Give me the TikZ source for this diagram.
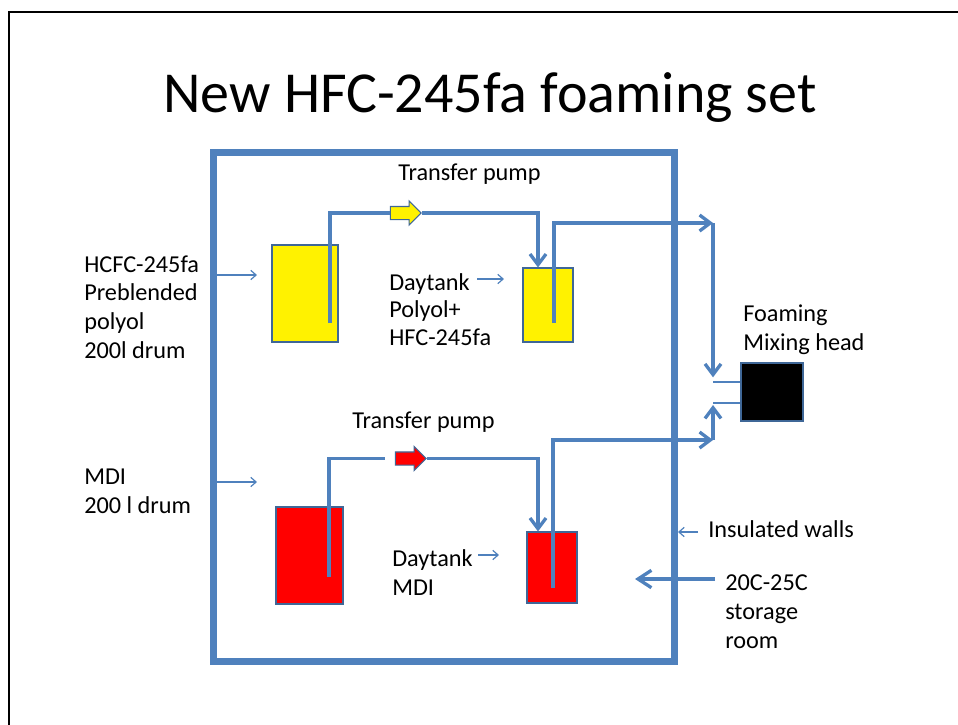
\documentclass[tikz,border=0pt]{standalone}
\usepackage{fontspec}
\setmainfont{Carlito}
\usetikzlibrary{arrows.meta,shapes.arrows,calc}
\definecolor{pipeblue}{HTML}{4F81BD}
\definecolor{tankedge}{HTML}{3F6797}
\begin{document}
\begin{tikzpicture}[x=0.75pt,y=-0.75pt,
  pipe/.style={draw=pipeblue, line width=2.5pt},
  pipearrow/.style={pipe, -{Straight Barb[length=8pt,width=12pt]}},
  feed/.style={draw=pipeblue, line width=1.5pt},
  thinarrow/.style={draw=pipeblue, line width=0.9pt, -{Straight Barb[length=4pt,width=7pt]}},
  bigarrow/.style={draw=pipeblue, line width=2.5pt, -{Straight Barb[length=10pt,width=13pt]}},
  tank/.style={draw=tankedge, line width=0.8pt, inner sep=0pt},
  pump/.style={single arrow, draw=tankedge, line width=0.8pt, inner sep=0pt, inner ysep=4.5pt,
    single arrow head extend=4.1pt, minimum height=23pt, shape border rotate=0},
  lbl/.style={font=\fontsize{18.2}{21.4}\selectfont, inner sep=0pt, anchor=base west, align=left}
]
\useasboundingbox (0,0) rectangle (958,725);
% slide border
\draw[line width=1.5pt] (9,725) -- (9,11.5) -- (958,11.5);
% title
\node (title) [font=\fontsize{43.5}{50}\selectfont, inner sep=0pt, anchor=base] at (490,112) {New HFC-245fa foaming set};
% insulated room
\node (room) [draw=pipeblue, line width=5.25pt, minimum width=346.1pt, minimum height=381.75pt, inner sep=0pt] at (444.25,406.5) {};
% tanks
\node (drumA) [tank, fill=yellow, minimum width=49.5pt, minimum height=72.75pt] at (305,293.5) {};
\node (dayA) [tank, fill=yellow, minimum width=37.5pt, minimum height=55.5pt] at (548,305) {};
\node (drumB) [tank, fill=red, minimum width=50.25pt, minimum height=72.75pt] at (309.5,555.5) {};
\node (dayB) [tank, fill=red, minimum width=37.5pt, minimum height=53.25pt] at (552,567.5) {};
\node (head) [fill=black, draw=tankedge, line width=0.8pt, inner sep=0pt, minimum width=46.5pt, minimum height=43.5pt] at (772,392) {};
% pumps
\node (pumpA) [pump, fill=yellow] at (402.5,213) {};
\node (pumpB) [pump, fill=red] at (407.5,458.5) {};
% dip tubes and joints
\coordinate (tubeA) at (330,323);
\coordinate (tubeB) at (329,577);
\coordinate (tubeDA) at (554,323);
\coordinate (tubeDB) at (553,588);
\coordinate (gapB) at (385,458.5);
\coordinate (joinA) at (713,223);
\coordinate (inA) at (713,382);
\coordinate (joinB) at (713,440);
\coordinate (inB) at (713,403);
% polyol line
\draw[pipe] (tubeA) |- (pumpA.west);
\draw[pipearrow] (pumpA.east) -| ([xshift=-7.5pt]dayA.north);
\draw[pipearrow] (tubeDA) |- (joinA);
\draw[pipearrow] (joinA) -- ([yshift=3.5pt]inA);
\draw[feed] (inA) -- (inA -| head.west);
% MDI line
\draw[pipe] (tubeB) |- (gapB);
\draw[pipearrow] (pumpB.east) -| ([xshift=-10.5pt]dayB.north);
\draw[pipearrow] (tubeDB) |- (joinB);
\draw[pipearrow] (joinB) -- ([yshift=-1.5pt]inB);
\draw[feed] (inB) -- (inB -| head.west);
% label arrows
\coordinate (aA) at (257,275);
\coordinate (aB) at (257,482);
\coordinate (aDA) at (504,279);
\coordinate (aDB) at (499,555);
\coordinate (aW) at (678,532);
\coordinate (aS) at (635,579);
\draw[thinarrow] (aA -| room.west) -- (aA);
\draw[thinarrow] (aB -| room.west) -- (aB);
\draw[thinarrow] (477,279) -- (aDA);
\draw[thinarrow] (478,555) -- (aDB);
\draw[thinarrow] (698,532) -- (aW);
\draw[bigarrow] (715,579) -- (aS);
% labels (multi-line nodes: base anchor = last line baseline)
\node (lA) [lbl] at (84,358) {HCFC-245fa\\Preblended\\polyol\\200l drum};
\node (lB) [lbl] at (84,513) {MDI\\200 l drum};
\node (tA) [lbl] at (398,180) {Transfer pump};
\node (tB) [lbl] at (352,428) {Transfer pump};
\node (dA) [lbl, font=\fontsize{18.2}{20.6}\selectfont] at (389,345) {Daytank\\Polyol+\\HFC-245fa};
\node (dB) [lbl] at (392,595) {Daytank\\MDI};
\node (fm) [lbl] at (743,350) {Foaming\\Mixing head};
\node (iw) [lbl] at (708,537) {Insulated walls};
\node (sr) [lbl] at (725,648) {20C-25C\\storage\\room};
\end{tikzpicture}
\end{document}
